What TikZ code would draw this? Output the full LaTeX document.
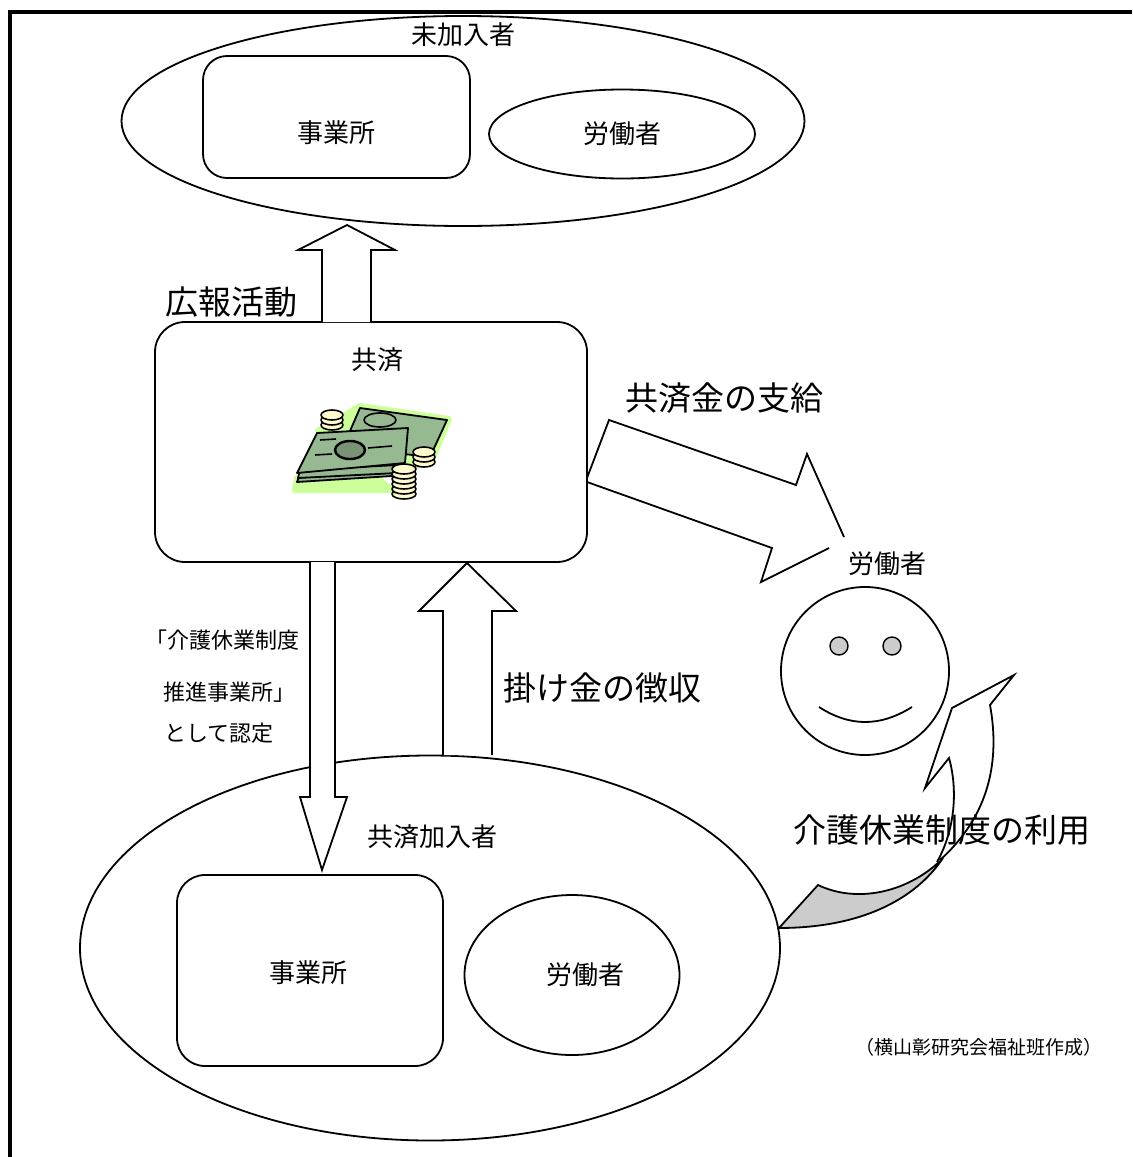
\documentclass[tikz,border=0pt]{standalone}
\usepackage{fontspec}
\newfontfamily\jp{Noto Sans CJK JP}
\usetikzlibrary{shapes.geometric}

\definecolor{billgreen}{RGB}{150,185,145}
\definecolor{billglow}{RGB}{204,255,153}
\definecolor{coinfill}{RGB}{255,250,205}
\definecolor{eyegray}{RGB}{204,204,204}

\tikzset{
  every node/.style={inner sep=0pt},
  lbl/.style={font=\jp\fontsize{13}{15}\selectfont},
  bigtxt/.style={font=\jp\fontsize{16.5}{19}\selectfont},
  midtxt/.style={font=\jp\fontsize{11}{13}\selectfont},
  note/.style={font=\jp\fontsize{9.5}{11}\selectfont},
  oval/.style={draw, ellipse, line width=0.9pt},
  rbox/.style={draw, rounded corners=12pt, line width=0.9pt},
  blk/.style={draw, fill=white, line width=0.9pt, line join=miter},
  coin/.style={draw, fill=coinfill, line width=0.8pt},
}

\begin{document}
\begin{tikzpicture}[x=0.5pt,y=-0.5pt]
\useasboundingbox (0,0) rectangle (1132,1157);
% outer frame, only top and left inside the page
\draw[line width=2pt] (9.5,1157) -- (9.5,11.5) -- (1132,11.5);

% not yet members
\node[oval, minimum width=341.5pt, minimum height=105pt] (outside) at (463,121) {};
\node[lbl] (outsidelbl) at (463,35) {未加入者};
\node[rbox, minimum width=133.5pt, minimum height=61pt] (firmtop) at (336.5,117) {};
\node[lbl] at (336,133) {事業所};
\node[oval, minimum width=133pt, minimum height=44.5pt] (worktop) at (622,134) {};
\node[lbl] at (622,134) {労働者};

% the fund
\node[rbox, rounded corners=15pt, minimum width=216pt, minimum height=120pt] (fund) at (371,442) {};
\node[lbl] (fundlbl) at (377,360) {共済};

% bills and coins
\begin{scope}[line join=round]
\draw[billglow, line width=3pt, fill=billglow] (360,406) -- (449,419) -- (432,460) -- (406,470) -- (297,478) -- (295,490) -- (392,490) -- (318,431) -- cycle;
\draw[fill=billgreen, line width=0.9pt] (360,408) -- (447,420) -- (430,457) -- (343,447) -- cycle;
\draw[line width=0.8pt] (380,420) ellipse [x radius=16, y radius=7];
\draw[fill=billgreen, line width=0.9pt] (297,482) -- (300,474) -- (393,468) -- (392,476) -- cycle;
\draw[fill=billgreen, line width=0.9pt] (298,478) -- (300,470) -- (398,465) -- (397,473) -- cycle;
\draw[fill=billgreen, line width=0.9pt] (317,433) -- (408,428) -- (405,463) -- (297,473) -- cycle;
\draw[line width=1.2pt, fill=billgreen!80!black] (350,450) ellipse [x radius=15, y radius=9];
\draw[line width=0.8pt] (315,455) -- (332,454) (368,448) -- (392,446) (320,440) -- (336,439);
\foreach \yy in {425,420,415}
  \draw[coin] (332,\yy) ellipse [x radius=11, y radius=5];
\foreach \yy in {462,457,452}
  \draw[coin] (424,\yy) ellipse [x radius=11, y radius=5];
\foreach \yy in {494,489,484,479,474,469}
  \draw[coin] (404,\yy) ellipse [x radius=12, y radius=5];
\end{scope}

% members
\node[oval, minimum width=350pt, minimum height=192.5pt] (inside) at (430,948) {};
\node[lbl] (insidelbl) at (432,837) {共済加入者};
\node[rbox, rounded corners=14pt, minimum width=133pt, minimum height=95.5pt] (firmbot) at (310,970.5) {};
\node[lbl] at (308,973) {事業所};
\node[oval, minimum width=107.5pt, minimum height=80pt] (workbot) at (572,975) {};
\node[lbl] at (585,975) {労働者};

% publicity arrow
\draw[blk] (322,322) -- (322,250) -- (298,250) -- (347,225) -- (395,250) -- (371,250) -- (371,322);
\node[bigtxt] (pr) at (231,302) {広報活動};

% certification arrow
\draw[blk] (310,562) -- (310,797) -- (300,797) -- (322,870) -- (347,797) -- (335,797) -- (335,562);
\node[midtxt] (cert1) at (222,640) {「介護休業制度};
\node[midtxt] (cert2) at (229,692) {推進事業所」};
\node[midtxt] (cert3) at (219,733) {として認定};

% premium arrow
\draw[blk] (443,755) -- (443,611) -- (419,611) -- (467,563) -- (516,611) -- (492,611) -- (492,755);
\node[bigtxt] (premium) at (602,688) {掛け金の徴収};

% payout arrow
\draw[blk, fill=none] (844,537) -- (807,454) -- (796,485) -- (609,420) -- (587,478);
\draw[blk, fill=none] (587,482) -- (772,548) -- (761,582) -- (829,548);
\node[bigtxt] (payout) at (724,398) {共済金の支給};

% worker
\node[lbl] (worklbl) at (887,564) {労働者};
\node[draw, circle, line width=0.9pt, minimum size=84pt] (face) at (865,671) {};
\node[draw, circle, fill=eyegray, line width=0.7pt, minimum size=9pt] (eyel) at (839,646) {};
\node[draw, circle, fill=eyegray, line width=0.7pt, minimum size=9pt] (eyer) at (892,646) {};
\draw[line width=0.9pt] (819,707) .. controls (850,727) and (880,727) .. (912,707);

% curved arrow for using the leave system: underside, then front face
\draw[line width=0.9pt, fill=eyegray, line join=miter] (943,858) .. controls (912,890) and (860,905) .. (818,885) -- (779,928) .. controls (860,928) and (915,900) .. (943,858);
\draw[blk] (937,862) .. controls (955,830) and (958,790) .. (949,758) -- (925,788) -- (952,708) -- (1014,675) -- (990,705) .. controls (1000,760) and (990,815) .. (940,860);
\node[bigtxt] (leave) at (942,830) {介護休業制度の利用};

\node[note] (credit) at (979,1047) {（横山彰研究会福祉班作成）};
\end{tikzpicture}
\end{document}
